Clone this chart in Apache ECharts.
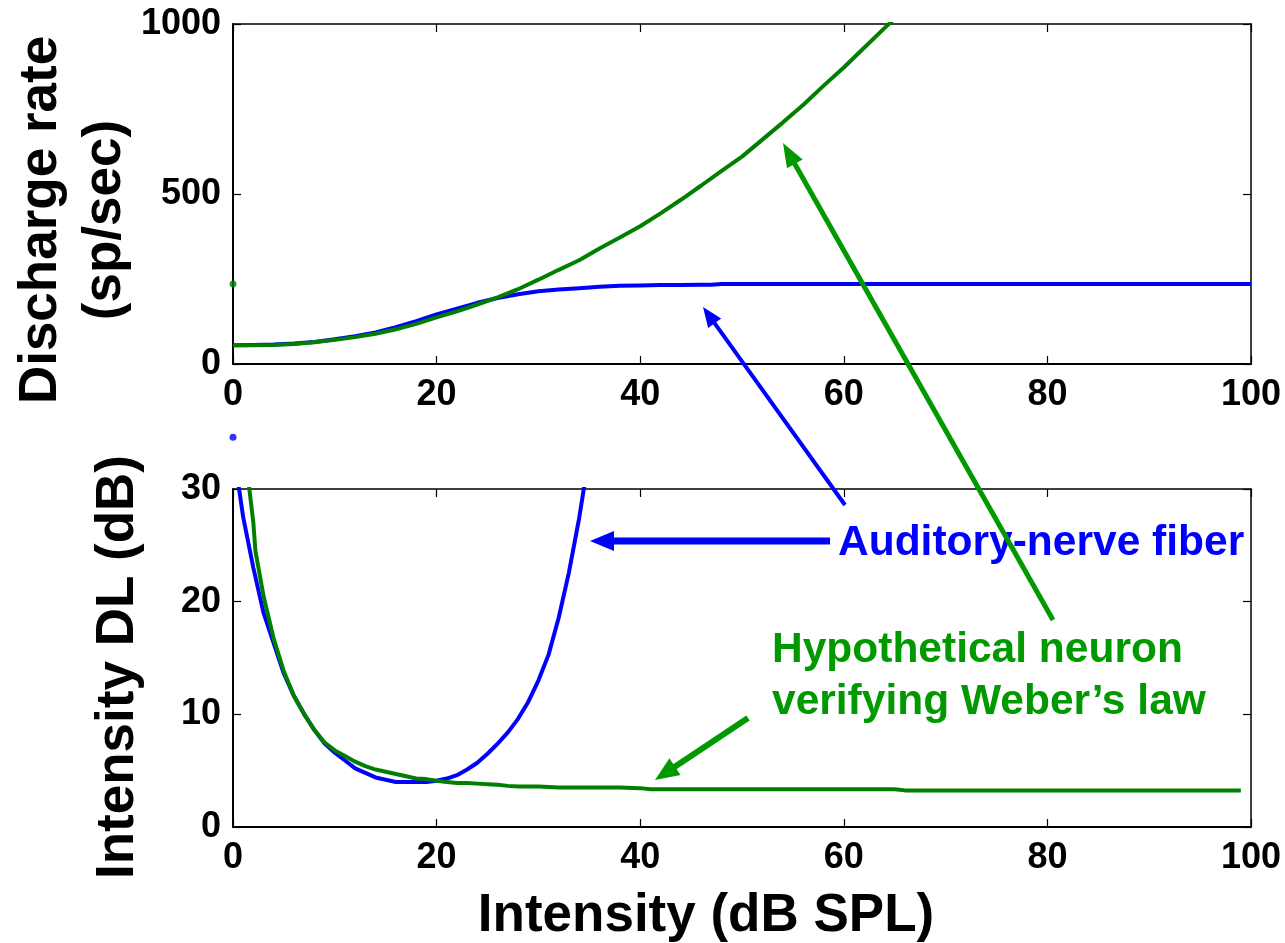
<!DOCTYPE html>
<html>
<head>
<meta charset="utf-8">
<script src="https://cdn.jsdelivr.net/npm/echarts@6/dist/echarts.min.js"></script>
<style>
html,body{margin:0;padding:0;background:#fff;}
#chart{width:1285px;height:943px;}
</style>
</head>
<body>
<div id="chart"></div>
<script>
// ---------------- DATA ----------------
const xTicks = [0, 20, 40, 60, 80, 100];
const rateTicks = [0, 500, 1000];
const dlTicks = [0, 10, 20, 30];

// Top panel: discharge rate (sp/sec)
const rateBlueX = [0,2,4,6,8,10,12,14,16,18,20,22,24,26,28,30,32,34,36,38,40,42,44,46,47,48,50,60,70,80,90,100];
const rateBlueY = [55,56,57,60,65,73,82,93,108,126,146,163,180,194,205,214,219,223,227,230,231,232,232,233,233,235,235,235,235,235,235,235];
const rateGreenX = [0,2,4,6,8,10,12,14,16,18,20,22,24,26,28,30,32,34,36,38,40,42,44,46,48,50,52,54,56,58,60,62,64,66];
const rateGreenY = [55,55,56,59,64,71,79,89,102,118,137,155,175,196,220,248,277,305,340,372,405,443,483,525,568,610,660,710,762,818,872,930,988,1045];

// Bottom panel: intensity DL (dB)
const dlBlueX = [0.5,1,2,3,4,5,6,7,8,9,10,11,12,13,14,15,16,17,18,19,20,21,22,23,24,25,26,27,28,29,30,31,32,33,34,34.6];
const dlBlueY = [30.6,27.5,23,19,16.3,13.6,11.6,10,8.6,7.4,6.6,5.9,5.2,4.8,4.4,4.2,4.0,4.0,4.0,4.0,4.1,4.3,4.6,5.1,5.7,6.5,7.4,8.4,9.6,11.1,13.0,15.3,18.6,22.6,27.4,30.8];
const dlGreenX = [1.5,2,2.2,3,4,5,6,7,8,9,10,11,12,13,14,15,16,17,18,19,20,21,22,23,24,25,26,27,28,30,32,35,38,40,41,50,60,65,66,80,99];
const dlGreenY = [30.8,27,24.5,20.5,16.7,13.8,11.6,10,8.6,7.5,6.8,6.3,5.8,5.4,5.1,4.9,4.7,4.5,4.3,4.25,4.1,4.0,3.9,3.9,3.85,3.8,3.75,3.65,3.6,3.6,3.5,3.5,3.5,3.45,3.35,3.35,3.35,3.35,3.25,3.25,3.25];

// Stray single markers seen in the figure
const rateGreenDot = [[0, 235]];
const dlBlueDot = [[0, 34.6]];

// ---------------- STYLE ----------------
const FONT = "'Liberation Sans', Arial, Helvetica, sans-serif";
const BLUE = '#0000ff';
const GREEN = '#007f00';
const GREEN2 = '#009900';

const zip = (xs, ys) => xs.map((x, i) => [x, ys[i]]);

const chart = echarts.init(document.getElementById('chart'), null, {renderer: 'canvas'});

const G = [
  {left: 233, top: 24, width: 1018, height: 340},
  {left: 233, top: 489, width: 1018, height: 338}
];

const plain = v => String(v);

function xAxisPair(gi) {
  const base = {
    gridIndex: gi, type: 'value', min: xTicks[0], max: xTicks[xTicks.length - 1], interval: xTicks[1] - xTicks[0],
    splitLine: {show: false},
    axisTick: {show: true, inside: true, length: 8, lineStyle: {color: '#000', width: 1.2}},
    axisLine: {show: true, onZero: false, lineStyle: {color: '#000', width: 2}}
  };
  return [
    Object.assign({}, base, {position: 'bottom',
      axisLabel: {show: true, margin: 13, color: '#000', fontFamily: FONT, fontWeight: 'bold', fontSize: 36, formatter: plain}}),
    Object.assign({}, base, {position: 'top', axisLabel: {show: false},
      axisLine: {show: true, onZero: false, lineStyle: {color: '#000', width: 1.5}}})
  ];
}
function yAxisPair(gi, ticks) {
  const base = {
    gridIndex: gi, type: 'value', min: ticks[0], max: ticks[ticks.length - 1], interval: ticks[1] - ticks[0],
    splitLine: {show: false},
    axisTick: {show: true, inside: true, length: 8, lineStyle: {color: '#000', width: 1.2}},
    axisLine: {show: true, onZero: false, lineStyle: {color: '#000', width: 2}}
  };
  return [
    Object.assign({}, base, {position: 'left',
      axisLabel: {show: true, margin: 12, color: '#000', fontFamily: FONT, fontWeight: 'bold', fontSize: 36, formatter: plain}}),
    Object.assign({}, base, {position: 'right', axisLabel: {show: false},
      axisLine: {show: true, onZero: false, lineStyle: {color: '#000', width: 1.5}}})
  ];
}

// arrows (annotation graphics)
function arrow(x1, y1, x2, y2, color, w, hl, hw) {
  const dx = x2 - x1, dy = y2 - y1, len = Math.sqrt(dx * dx + dy * dy);
  const ux = dx / len, uy = dy / len, px = -uy, py = ux;
  const bx = x2 - ux * hl, by = y2 - uy * hl;
  return [
    {type: 'line', silent: true, z: 100, shape: {x1: x1, y1: y1, x2: bx + ux * 2, y2: by + uy * 2},
      style: {stroke: color, lineWidth: w}},
    {type: 'polygon', silent: true, z: 100,
      shape: {points: [[x2, y2], [bx + px * hw / 2, by + py * hw / 2], [bx - px * hw / 2, by - py * hw / 2]]},
      style: {fill: color}}
  ];
}

const graphics = [].concat(
  arrow(845, 505, 703, 307, BLUE, 4, 20, 16),
  arrow(1053, 620, 783, 143, GREEN2, 5, 24, 18),
  arrow(830, 541, 590, 541, BLUE, 7, 24, 20),
  arrow(748, 718, 655, 780, GREEN2, 6, 24, 20),
  [
    {type: 'text', x: 73, y: 220, rotation: Math.PI / 2, silent: true,
      style: {text: 'Discharge rate\n(sp/sec)', fill: '#000', font: 'bold 53px ' + FONT,
        align: 'center', verticalAlign: 'middle', lineHeight: 64}},
    {type: 'text', x: 118, y: 667, rotation: Math.PI / 2, silent: true,
      style: {text: 'Intensity DL (dB)', fill: '#000', font: 'bold 53px ' + FONT,
        align: 'center', verticalAlign: 'middle'}},
    {type: 'text', x: 706, y: 916, silent: true,
      style: {text: 'Intensity (dB SPL)', fill: '#000', font: 'bold 53px ' + FONT,
        align: 'center', verticalAlign: 'middle'}},
    {type: 'text', x: 838, y: 543, silent: true, z: 90,
      style: {text: 'Auditory-nerve fiber', fill: BLUE, font: 'bold 42.5px ' + FONT,
        align: 'left', verticalAlign: 'middle'}},
    {type: 'text', x: 772, y: 650, silent: true, z: 90,
      style: {text: 'Hypothetical neuron', fill: GREEN2, font: 'bold 42.5px ' + FONT,
        align: 'left', verticalAlign: 'middle'}},
    {type: 'text', x: 772, y: 702, silent: true, z: 90,
      style: {text: 'verifying Weber\u2019s law', fill: GREEN2, font: 'bold 42.5px ' + FONT,
        align: 'left', verticalAlign: 'middle'}}
  ]
);

const option = {
  animation: false,
  backgroundColor: '#fff',
  grid: G,
  xAxis: [].concat(xAxisPair(0), xAxisPair(1)),
  yAxis: [].concat(yAxisPair(0, rateTicks), yAxisPair(1, dlTicks)),
  series: [
    {type: 'line', xAxisIndex: 0, yAxisIndex: 0, data: zip(rateBlueX, rateBlueY), showSymbol: false,
      lineStyle: {color: BLUE, width: 4}, z: 3},
    {type: 'line', xAxisIndex: 0, yAxisIndex: 0, data: zip(rateGreenX, rateGreenY), showSymbol: false,
      lineStyle: {color: GREEN, width: 4}, z: 4},
    {type: 'scatter', xAxisIndex: 0, yAxisIndex: 0, data: rateGreenDot, symbolSize: 7, clip: false,
      itemStyle: {color: GREEN}, z: 5},
    {type: 'line', xAxisIndex: 2, yAxisIndex: 2, data: zip(dlBlueX, dlBlueY), showSymbol: false,
      lineStyle: {color: BLUE, width: 4}, z: 3},
    {type: 'line', xAxisIndex: 2, yAxisIndex: 2, data: zip(dlGreenX, dlGreenY), showSymbol: false,
      lineStyle: {color: GREEN, width: 4}, z: 4},
    {type: 'scatter', xAxisIndex: 2, yAxisIndex: 2, data: dlBlueDot, symbolSize: 7, clip: false,
      itemStyle: {color: BLUE}, z: 5}
  ],
  graphic: graphics
};
chart.setOption(option);
</script>
</body>
</html>
